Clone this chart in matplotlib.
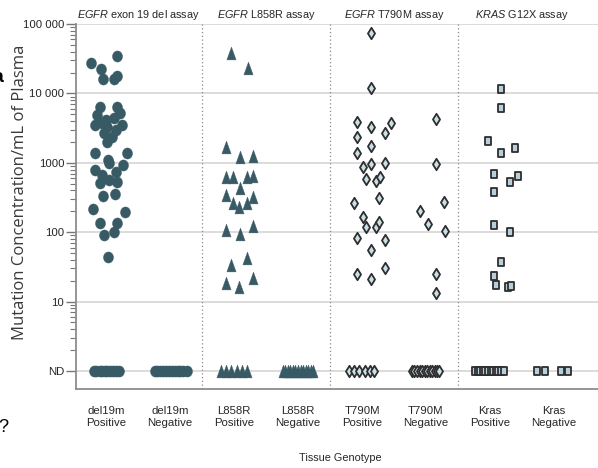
import numpy as np
import matplotlib
matplotlib.use("Agg")
import matplotlib.pyplot as plt
from matplotlib.path import Path
from matplotlib.ticker import FixedLocator, NullFormatter

# categories along the x axis, two per assay
categories = ["del19m\nPositive", "del19m\nNegative", "L858R\nPositive", "L858R\nNegative",
              "T790M\nPositive", "T790M\nNegative", "Kras\nPositive", "Kras\nNegative"]
assays = [("EGFR", " exon 19 del assay"), ("EGFR", " L858R assay"),
          ("EGFR", " T790M assay"), ("KRAS", " G12X assay")]

# detected samples: mutation copies/mL and horizontal jitter (category units)
del19_pos_vals = [27200, 34700, 22300, 16000, 16000, 17900,
                  6460, 6460, 5190, 4900, 4150, 4390, 3520, 3720, 3520, 3320, 2980, 2670, 2390, 2020,
                  1375, 1375, 1100,
                  791, 987, 933, 747, 670, 508, 567, 536, 333, 353, 214, 198, 135, 135, 91, 99, 44.5]
del19_pos_jit = [-0.23, 0.17, -0.08, -0.05, 0.13, 0.17,
                 -0.09, 0.17, 0.21, -0.14, 0.0, 0.12, -0.17, -0.06, 0.25, 0.02, 0.15, -0.04, 0.09, 0.02,
                 -0.17, 0.33, 0.03,
                 -0.18, 0.04, 0.26, 0.15, -0.06, -0.10, 0.05, 0.17, -0.05, 0.14, -0.21, 0.29,
                 -0.09, 0.17, -0.04, 0.12, 0.03]

l858r_pos_vals = [37900, 23100, 1710, 1230, 1260, 620, 620, 620, 647, 439, 345, 267, 234, 262, 326,
                  108, 94.6, 123, 42.2, 33.8, 18.8, 16.4, 21.7]
l858r_pos_jit = [-0.04, 0.22, -0.12, 0.09, 0.30, -0.12, -0.02, 0.20, 0.30, 0.09, -0.12, -0.02, 0.08,
                 0.20, 0.30, -0.12, 0.09, 0.30, 0.21, -0.04, -0.12, 0.08, 0.29]

t790m_pos_vals = [73700, 11900, 3920, 3260, 3720, 2670, 2340, 1750, 1400, 881, 964, 1007, 580, 554,
                  620, 267, 309, 168, 120, 118, 142, 82, 77.4, 55.6, 25.1, 30.3, 21]
t790m_pos_jit = [0.14, 0.14, -0.07, 0.14, 0.46, 0.36, -0.07, 0.14, -0.07, 0.01, 0.14, 0.36, 0.07,
                 0.22, 0.28, -0.13, 0.27, 0.01, 0.06, 0.22, 0.27, -0.07, 0.36, 0.14, -0.07, 0.36, 0.14]

t790m_neg_vals = [4250, 964, 205, 276, 132, 105, 25.1, 13.2]
t790m_neg_jit = [0.16, 0.16, -0.09, 0.29, 0.04, 0.30, 0.16, 0.16]

kras_pos_vals = [11500, 6120, 2090, 1400, 1620, 692, 536, 654, 385, 127, 100, 37.7, 23.5, 17.4, 16.4, 17]
kras_pos_jit = [0.18, 0.18, -0.03, 0.18, 0.40, 0.06, 0.31, 0.44, 0.06, 0.06, 0.31, 0.18, 0.06, 0.10,
                0.29, 0.33]

# not-detected samples: jitter only, drawn on the ND row
nd_jit = [
    [-0.19, -0.15, -0.10, -0.06, -0.02, 0.02, 0.06, 0.11, 0.15, 0.20],
    [-0.24, -0.20, -0.15, -0.11, -0.06, -0.02, 0.03, 0.07, 0.12, 0.16, 0.21, 0.26],
    [-0.20, -0.12, -0.04, 0.04, 0.12, 0.20],
    [-0.24, -0.20, -0.16, -0.12, -0.08, -0.04, 0.0, 0.04, 0.08, 0.12, 0.16, 0.20, 0.24],
    [-0.20, -0.12, -0.04, 0.04, 0.12, 0.19],
    [-0.22, -0.18, -0.14, -0.10, -0.06, -0.02, 0.02, 0.06, 0.10, 0.14, 0.18, 0.20],
    [-0.23, -0.19, -0.15, -0.11, -0.07, -0.03, 0.01, 0.05, 0.09, 0.13, 0.17, 0.22],
    [-0.27, -0.14, 0.11, 0.22],
]
detected = {0: (del19_pos_vals, del19_pos_jit), 2: (l858r_pos_vals, l858r_pos_jit),
            4: (t790m_pos_vals, t790m_pos_jit), 5: (t790m_neg_vals, t790m_neg_jit),
            6: (kras_pos_vals, kras_pos_jit)}

ND_LEVEL = 1.0
yticks = [1, 10, 100, 1000, 10000, 100000]
ytick_labels = ["ND", "10", "100", "1000", "10 000", "100 000"]

# no condensed face installed, so a narrow-ish sans at a smaller size
FONT = "Liberation Sans"
plt.rcParams["mathtext.fontset"] = "custom"
plt.rcParams["mathtext.it"] = FONT + ":italic"
plt.rcParams["mathtext.rm"] = FONT
TXT = "#262626"

TEAL = "#385a65"
LIGHT = "#c9e0e7"
SQ_FILL = "#b7cfda"
EDGE = "#2e2e2e"

ellipse = Path(Path.unit_circle().vertices * [0.9, 1.0], Path.unit_circle().codes)
tri = Path([(0, 1), (-0.72, -1), (0.72, -1), (0, 1)], closed=True)
dia = Path([(0, 1), (0.62, 0), (0, -1), (-0.62, 0), (0, 1)], closed=True)
rect = Path([(-0.72, -1), (0.72, -1), (0.72, 1), (-0.72, 1), (-0.72, -1)], closed=True)

styles = [
    dict(marker=ellipse, ms=8.0, mfc=TEAL, mec=TEAL, mew=0.3),
    dict(marker=tri, ms=9.2, mfc=TEAL, mec=TEAL, mew=0.3),
    dict(marker=dia, ms=8.2, mfc=LIGHT, mec=EDGE, mew=1.3),
    dict(marker=rect, ms=6.4, mfc=SQ_FILL, mec=EDGE, mew=1.3),
]

fig = plt.figure(figsize=(5.98, 4.68), dpi=100)
ax = fig.add_axes([76 / 598, 79 / 468, 1 - 76 / 598, (389 - 24) / 468])
ax.set_yscale("log")
ax.set_ylim(0.55, 1e5)
ax.set_xlim(-0.47, 7.69)

for i in range(len(categories)):
    st = styles[i // 2]
    if i in detected:
        vals, jit = detected[i]
        ax.plot(i + np.array(jit), vals, ls="none", zorder=3, **st)
    nd = nd_jit[i]
    ax.plot(i + np.array(nd), [ND_LEVEL] * len(nd), ls="none", zorder=3, **st)

# horizontal reference lines and assay separators
for y in yticks:
    ax.axhline(y, color="#dcdcdc", lw=1.4, zorder=1)
for xs in [1.5, 3.5, 5.5]:
    ax.axvline(xs, color="#8a8a8a", lw=0.9, ls=(0, (1, 2)), zorder=1)

ax.set_yticks(yticks)
ax.set_yticklabels(ytick_labels, fontsize=8.2, color=TXT, family=FONT)
minors = [m * 10 ** k for k in range(0, 5) for m in range(2, 10)]
ax.yaxis.set_minor_locator(FixedLocator(minors))
ax.yaxis.set_minor_formatter(NullFormatter())
ax.tick_params(axis="y", which="major", length=7, width=1.0, color="#777777", pad=1.5)
ax.tick_params(axis="y", which="minor", length=4, width=0.8, color="#777777")
ax.set_xticks(range(len(categories)))
ax.set_xticklabels(categories, fontsize=8.2, color=TXT, linespacing=1.3, family=FONT)
ax.tick_params(axis="x", length=0, pad=12)

for side in ["top", "right"]:
    ax.spines[side].set_visible(False)
for side in ["left", "bottom"]:
    ax.spines[side].set_color("#8c8c8c")
    ax.spines[side].set_linewidth(1.3)

for g, (gene, rest) in enumerate(assays):
    xc = (138 + 128 * g) / 598
    fig.text(xc, 1 - 15 / 468, r"$\mathit{%s}$%s" % (gene, rest), ha="center", va="center",
             fontsize=7.8, color=TXT, family=FONT)

fig.text(20 / 598, 1 - 192 / 468, "Mutation Concentration/mL of Plasma", rotation=90,
         ha="center", va="center", fontsize=12, color="#3a3a3a", family="Open Sans")
fig.text(340 / 598, 1 - 458 / 468, "Tissue Genotype", ha="center", va="center",
         fontsize=7.8, color=TXT, family=FONT)

# fragments of neighbouring text at the left margin
fig.text(3 / 598, 1 - 78 / 468, "a", ha="right", va="center", fontsize=14,
         fontweight="bold", color="black", family=FONT)
fig.text(3 / 598, 1 - 428 / 468, "?", ha="center", va="center", fontsize=13,
         color="black", family=FONT)

fig.savefig("out.png", dpi=100)
